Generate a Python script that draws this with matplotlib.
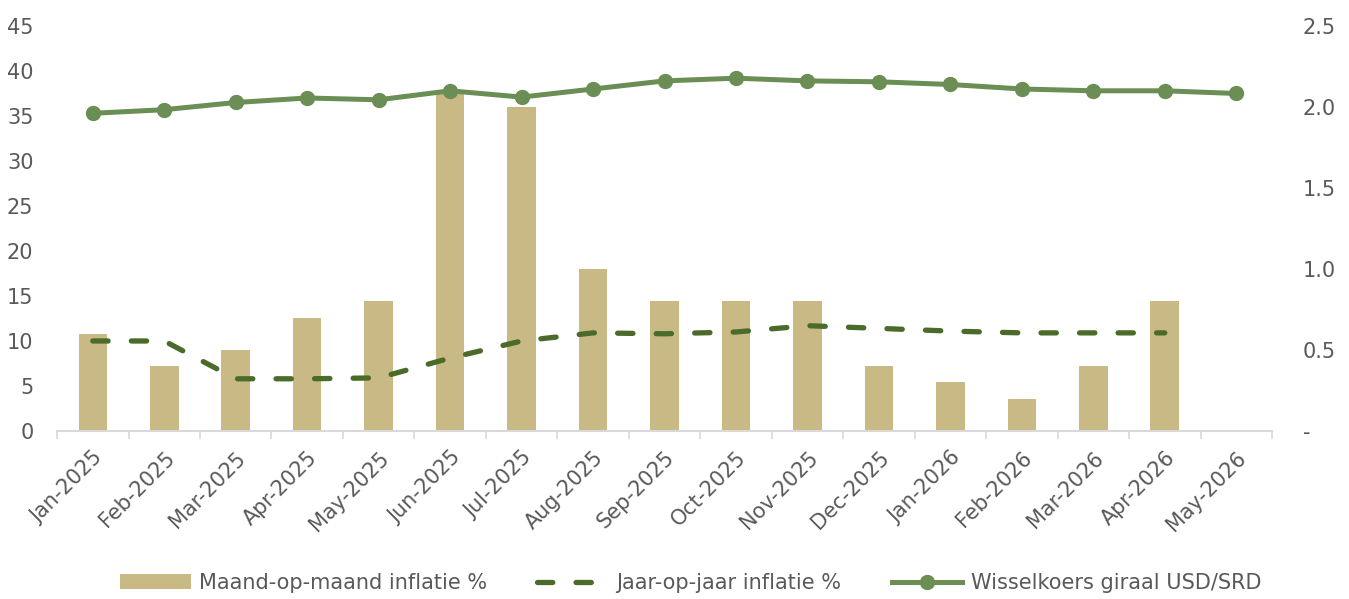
import numpy as np
import matplotlib
matplotlib.use('Agg')
import matplotlib.pyplot as plt
from matplotlib.ticker import FuncFormatter, FixedLocator

# data
months = ['Jan-2025', 'Feb-2025', 'Mar-2025', 'Apr-2025', 'May-2025', 'Jun-2025',
          'Jul-2025', 'Aug-2025', 'Sep-2025', 'Oct-2025', 'Nov-2025', 'Dec-2025',
          'Jan-2026', 'Feb-2026', 'Mar-2026', 'Apr-2026', 'May-2026']

# month-on-month inflation (right axis), May-2026 not yet known
mom = [0.6, 0.4, 0.5, 0.7, 0.8, 2.1, 2.0, 1.0, 0.8, 0.8, 0.8, 0.4, 0.3, 0.2, 0.4, 0.8, np.nan]

# year-on-year inflation (left axis)
yoy = [10.0, 10.0, 5.8, 5.8, 5.9, 8.1, 10.0, 10.9, 10.8, 11.0, 11.7, 11.4, 11.1, 10.9, 10.9, 10.9, np.nan]

# exchange rate USD/SRD (left axis)
fx = [35.3, 35.7, 36.5, 37.0, 36.8, 37.8, 37.1, 38.0, 38.9, 39.2, 38.9, 38.8, 38.5, 38.0, 37.8, 37.8, 37.5]

BAR_C = '#C9B985'
YOY_C = '#4A6B2A'
FX_C = '#6B8E55'
TXT_C = '#595959'
AX_C = '#D9D9D9'

plt.rcParams['font.family'] = ['DejaVu Sans']

x = np.arange(len(months))

fig = plt.figure(figsize=(13.49, 5.99), dpi=100)
ax = fig.add_axes([0.0423, 0.2805, 0.9006, 0.6761])
ax2 = ax.twinx()

# bars on the right axis, lines on the left axis drawn on top
bars = ax2.bar(x, mom, width=0.4, color=BAR_C, label='Maand-op-maand inflatie %')
ax.set_zorder(ax2.get_zorder() + 1)
ax.patch.set_visible(False)

l_yoy, = ax.plot(x, yoy, color=YOY_C, lw=3.8, linestyle=(0, (2.9, 4.4)),
                 dash_capstyle='round', label='Jaar-op-jaar inflatie %')
l_fx, = ax.plot(x, fx, color=FX_C, lw=3.6, marker='o', markersize=10,
                label='Wisselkoers giraal USD/SRD')

ax.set_xlim(-0.5, len(months) - 0.5)
ax.set_ylim(0, 45)
ax2.set_ylim(0, 2.5)
ax.set_yticks(np.arange(0, 46, 5))
ax2.set_yticks(np.arange(0, 2.51, 0.5))
ax2.yaxis.set_major_formatter(FuncFormatter(lambda v, p: '-' if abs(v) < 1e-9 else f'{v:.1f}'))

ax.set_xticks(x)
ax.set_xticklabels(months, rotation=45, ha='right', rotation_mode='anchor')
ax.xaxis.set_minor_locator(FixedLocator(np.arange(-0.5, len(months), 1.0)))
ax.tick_params(axis='x', which='major', length=0, pad=12, labelsize=15, labelcolor=TXT_C)
ax.tick_params(axis='x', which='minor', length=6, width=1.2, color=AX_C)
ax.tick_params(axis='y', length=0, pad=17, labelsize=15, labelcolor=TXT_C)
ax2.tick_params(axis='y', length=0, pad=22, labelsize=15, labelcolor=TXT_C)

for a in (ax, ax2):
    for s in ['top', 'left', 'right']:
        a.spines[s].set_visible(False)
    a.spines['bottom'].set_color(AX_C)
    a.spines['bottom'].set_linewidth(1.5)
ax2.spines['bottom'].set_visible(False)

fig.legend([bars, l_yoy, l_fx],
           ['Maand-op-maand inflatie %', 'Jaar-op-jaar inflatie %', 'Wisselkoers giraal USD/SRD'],
           loc='center', bbox_to_anchor=(0.512, 1 - 583 / 599), ncol=3, frameon=False,
           fontsize=15, labelcolor=TXT_C, handlelength=3.4, columnspacing=2.4,
           handletextpad=0.4)

fig.savefig('out.png', dpi=100)
